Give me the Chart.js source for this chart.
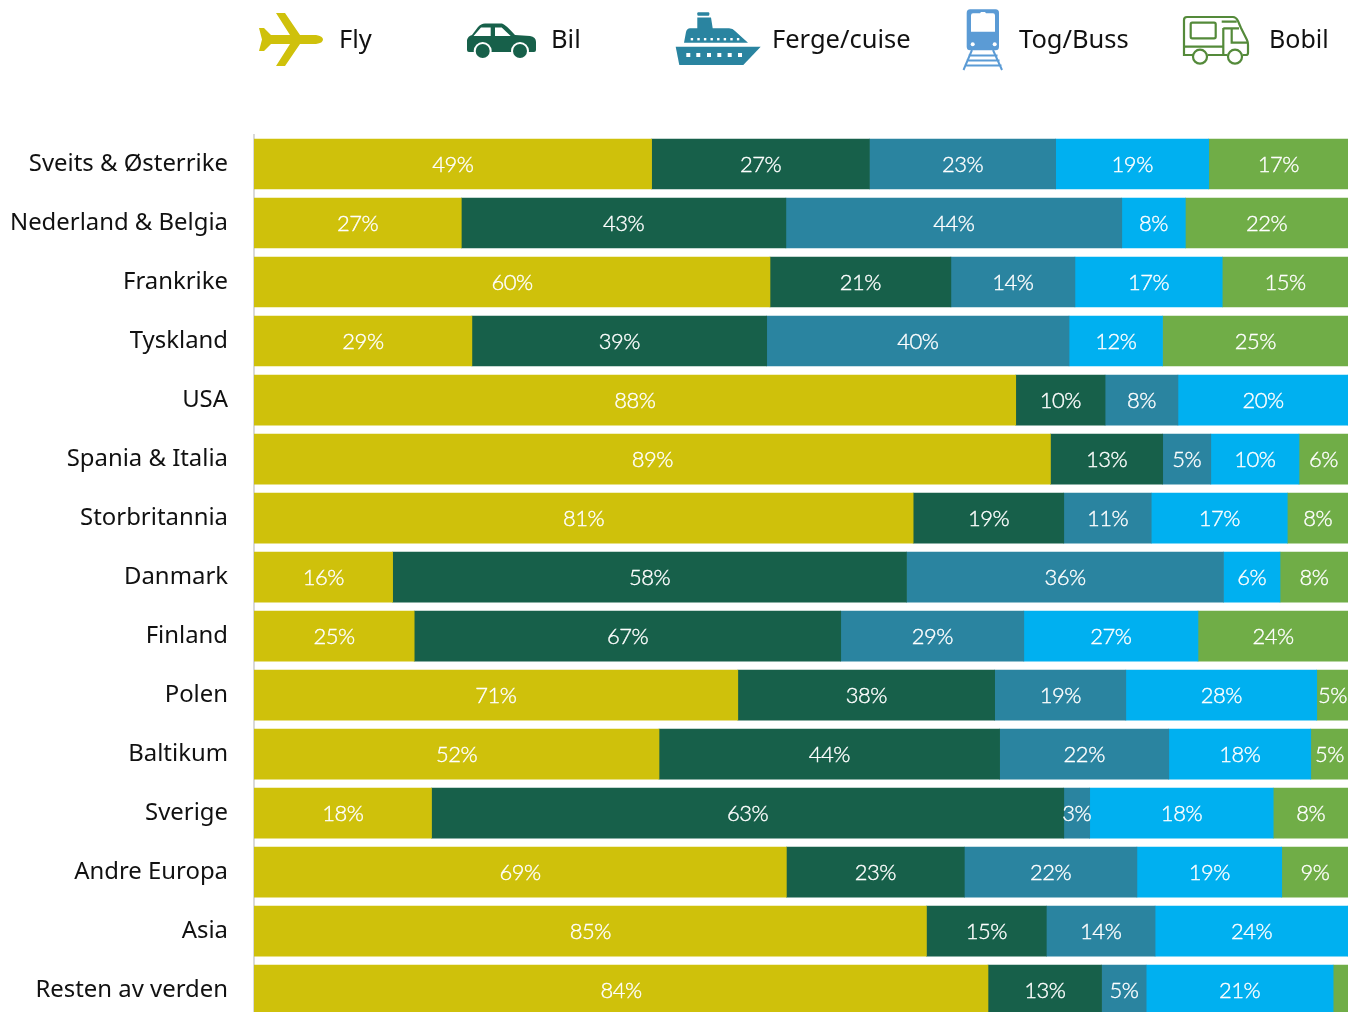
<!DOCTYPE html>
<html lang="no">
<head>
<meta charset="utf-8">
<title>Reisemåte per reisemål</title>
<script src="https://cdn.jsdelivr.net/npm/chart.js@4"></script>
<style>
html,body{margin:0;padding:0;background:#fff;width:1348px;height:1012px;overflow:hidden}
#wrap{position:relative;width:1348px;height:1012px;overflow:hidden}
#holder{position:absolute;left:0;top:0;width:1348px;height:1060px}
#icons{position:absolute;left:0;top:0}
.lg{position:absolute;top:20px;font:25.5px "Noto Sans",sans-serif;color:#111;line-height:36px;white-space:nowrap}
</style>
</head>
<body>
<div id="wrap">
<div id="holder"><canvas id="chart"></canvas></div>
<svg id="icons" width="1348" height="100" viewBox="0 0 1348 100">
  <path fill="#CFC10B" d="M276 13H285L300 35H316Q323 36 323 39.5Q323 43 316 44H300L285 66H276L290 44H271L264 51H259L262 39.5L259 28H264L271 35H290Z"/>
  <path fill="#17604A" d="M467 40Q468 36 472 35L478 27Q481 23.5 485 23.5H502Q505 24 515 35L530 36Q536 37 536 42V50Q536 52 534 52H469Q467 52 467 50Z"/>
  <path fill="#fff" d="M473.5 36L481 27.5H490.7V36ZM495 27.5H501.7L510.7 36H495Z"/>
  <circle cx="482.7" cy="51" r="9" fill="#fff"/><circle cx="482.7" cy="51" r="7" fill="#17604A"/>
  <circle cx="520" cy="51" r="9" fill="#fff"/><circle cx="520" cy="51" r="7" fill="#17604A"/>
  <g fill="#2A84A0">
    <rect x="697.3" y="12.3" width="12" height="3.5" rx="1"/>
    <path d="M697.3 17.5H711L712.7 28.3H729Q733 28.3 735 31L748 42.7H684L686 32Q687 28.3 690 28.3H697.3Z"/>
    <path d="M675.7 46.7H760.7L743.3 65H679.3Z"/>
  </g>
  <g fill="#fff">
    <rect x="690.7" y="38" width="2.4" height="2.4"/><rect x="697.3" y="38" width="2.4" height="2.4"/><rect x="703.9" y="38" width="2.4" height="2.4"/><rect x="710.5" y="38" width="2.4" height="2.4"/><rect x="717.1" y="38" width="2.4" height="2.4"/><rect x="723.7" y="38" width="2.4" height="2.4"/><rect x="730.3" y="38" width="2.4" height="2.4"/><rect x="736.9" y="38" width="2.4" height="2.4"/>
    <rect x="686.3" y="53" width="4" height="4"/><rect x="696.3" y="53" width="4" height="4"/><rect x="707" y="53" width="4" height="4"/><rect x="717.3" y="53" width="4" height="4"/><rect x="727.7" y="53" width="4" height="4"/><rect x="738" y="53" width="4" height="4"/>
  </g>
  <rect x="966.7" y="9.3" width="32.3" height="41" rx="3.5" fill="#5B9BD5"/>
  <path fill="#fff" d="M973 13.3H980L981 12H985L986 13.3H993Q995 13.3 995 15.5V31.7H971V15.5Q971 13.3 973 13.3Z"/>
  <circle cx="972.7" cy="44.3" r="2" fill="#fff"/><circle cx="994.7" cy="44.3" r="2" fill="#fff"/>
  <path fill="none" stroke="#5B9BD5" stroke-width="2" d="M972 50L963.5 70M993 50L1002 70M968.5 55.5H997.5M966.5 60.5H999.5M964.5 65.5H1001.5"/>
  <g fill="none" stroke="#548A3A" stroke-width="2.2">
    <path d="M1193 55H1184V20Q1184 17 1187 17H1233Q1236 17 1238 21L1241 28L1247 40Q1248 42 1248 45V53Q1248 55 1246 55H1243M1227 55H1208"/>
    <rect x="1190.7" y="22.7" width="25" height="15.6" rx="1.5"/>
    <path d="M1221.7 21.7H1236.7M1184 46.7H1223.3M1223.3 28V55M1223.3 28.3H1239M1231.7 28.3V42.7H1247"/>
    <circle cx="1200" cy="56.7" r="7"/><circle cx="1235" cy="56.7" r="7"/>
  </g>
</svg>
<div class="lg" id="lg0" style="left:339px"></div>
<div class="lg" id="lg1" style="left:551px"></div>
<div class="lg" id="lg2" style="left:772px"></div>
<div class="lg" id="lg3" style="left:1019px"></div>
<div class="lg" id="lg4" style="left:1269px;font-size:25px"></div>
</div>
<script>
const categories = ["Sveits & Østerrike","Nederland & Belgia","Frankrike","Tyskland","USA","Spania & Italia","Storbritannia","Danmark","Finland","Polen","Baltikum","Sverige","Andre Europa","Asia","Resten av verden"];
const seriesNames = ["Fly","Bil","Ferge/cuise","Tog/Buss","Bobil"];
const seriesColors = ["#CFC10B","#17604A","#2A84A0","#00B0F0","#70AD47"];
const fly   = [49.1,27.4,59.9,28.9,87.8,89.4,81.4,15.7,25.2,71.2,52.2,17.8,69.1,84.7,84.0];
const bil   = [26.9,42.9,21.0,39.1,10.3,12.6,18.6,58.2,67.1,37.8,43.9,63.4,23.1,15.1,13.0];
const ferge = [23.0,44.4,14.4,40.1,8.4,5.4,10.8,35.9,28.8,19.3,21.8,2.6,22.4,13.7,5.1];
const tog   = [18.9,8.4,17.1,12.4,19.6,9.9,16.8,6.4,27.4,28.1,18.3,18.4,18.8,24.3,21.4];
const bobil = [17.2,21.5,14.6,24.6,0,5.5,7.5,7.7,23.6,4.6,4.8,7.5,8.6,0,1.7];
const series = [fly,bil,ferge,tog,bobil];

seriesNames.forEach((n,i)=>{document.getElementById('lg'+i).textContent=n;});
const totals = categories.map((_,c)=>series.reduce((s,a)=>s+a[c],0));

const labelFont = '300 22px Lato, sans-serif';
const barLabels = {
  id:'barLabels',
  afterDatasetsDraw(chart){
    const {ctx} = chart;
    ctx.save();
    ctx.font = labelFont;
    ctx.letterSpacing = '-0.5px';
    ctx.fillStyle = '#fff';
    ctx.strokeStyle = '#fff';
    ctx.lineWidth = 0.35;
    ctx.textAlign = 'center';
    ctx.textBaseline = 'middle';
    chart.data.datasets.forEach((ds,d)=>{
      chart.getDatasetMeta(d).data.forEach((bar,c)=>{
        const v = series[d][c];
        if (v < 2.5) return;
        const cx = (bar.x + bar.base)/2;
        ctx.fillText(Math.round(v)+'%', cx, bar.y+1);
        ctx.strokeText(Math.round(v)+'%', cx, bar.y+1);
      });
    });
    ctx.restore();
  }
};

new Chart(document.getElementById('chart'),{
  type:'bar',
  plugins:[barLabels],
  data:{
    labels:categories,
    datasets:series.map((a,i)=>({
      label:seriesNames[i],
      data:a.map((v,c)=>v/totals[c]*100),
      backgroundColor:seriesColors[i],
      borderWidth:0,
      barThickness:50
    }))
  },
  options:{
    indexAxis:'y',
    responsive:true,
    maintainAspectRatio:false,
    animation:false,
    layout:{padding:{top:134.5,bottom:0,left:0,right:0}},
    plugins:{legend:{display:false},tooltip:{enabled:false}},
    scales:{
      x:{stacked:true,min:0,max:100,display:false},
      y:{
        stacked:true,
        afterFit(s){s.width=254;},
        grid:{display:false,drawTicks:false},
        border:{display:true,color:'#D9D9D9',width:2},
        ticks:{color:'#111',font:{family:'"Noto Sans"',size:23.9},padding:26,autoSkip:false}
      }
    }
  }
});
</script>
</body>
</html>
